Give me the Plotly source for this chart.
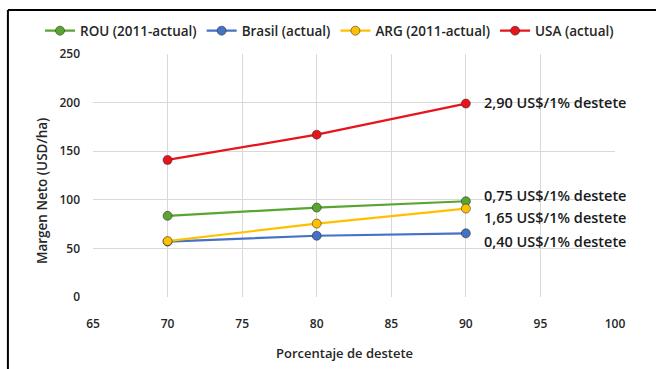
import plotly.graph_objects as go

destete = [70, 80, 90]
rou = [83.5, 92, 98.5]
brasil = [57, 63, 65.5]
arg = [57.5, 75.5, 91]
usa = [141, 167, 199]

series_names = ["ROU (2011-actual)", "Brasil (actual)", "ARG (2011-actual)", "USA (actual)"]
series_colors = ["#5aa532", "#4472c4", "#ffc000", "#e8141b"]
series_values = [rou, brasil, arg, usa]

slope_labels = ["2,90 US$/1% destete", "0,75 US$/1% destete", "1,65 US$/1% destete", "0,40 US$/1% destete"]
slope_label_y = [200, 104.5, 82, 57.5]

x_ticks = [65, 70, 75, 80, 85, 90, 95, 100]
y_ticks = [0, 50, 100, 150, 200, 250]

x_title = "Porcentaje de destete"
y_title = "Margen Neto (USD/ha)"

FONT = "Open Sans"
TXT = "#262626"

fig = go.Figure()
for name, color, vals in zip(series_names, series_colors, series_values):
    fig.add_trace(go.Scatter(
        x=destete, y=vals, name=name, mode="lines+markers",
        line=dict(color=color, width=2.2),
        marker=dict(color=color, size=9, line=dict(color="rgba(40,40,40,0.55)", width=1)),
    ))

for txt, yv in zip(slope_labels, slope_label_y):
    fig.add_annotation(x=91.05, y=yv, xref="x", yref="y", text=txt, showarrow=False,
                       xanchor="left", yanchor="middle",
                       font=dict(family=FONT, size=14.5, color="#1a1a1a", weight=600))

# axis titles (placed as in the reference, slightly off-centre)
fig.add_annotation(x=0.481, y=-0.23, xref="paper", yref="paper", text=x_title, showarrow=False,
                   xanchor="center", yanchor="middle",
                   font=dict(family=FONT, size=13, color=TXT, weight=600))
fig.add_annotation(x=-0.0977, y=0.436, xref="paper", yref="paper", text=y_title, showarrow=False,
                   textangle=-90, xanchor="center", yanchor="middle",
                   font=dict(family=FONT, size=13.5, color=TXT, weight=600))

# outer frame (only left and top edges are visible)
fig.add_shape(type="line", xref="paper", yref="paper",
              x0=-0.163, x1=-0.163, y0=-0.45, y1=1.181,
              line=dict(color="black", width=2), layer="above")
fig.add_shape(type="line", xref="paper", yref="paper",
              x0=-0.163, x1=1.2, y0=1.181, y1=1.181,
              line=dict(color="black", width=2), layer="above")

fig.update_layout(
    width=656, height=369,
    margin=dict(l=93, r=41, t=54, b=72),
    paper_bgcolor="white", plot_bgcolor="white",
    font=dict(family=FONT, size=11, color=TXT),
    showlegend=True,
    legend=dict(orientation="h", x=-0.1015, xanchor="left", y=1.095, yanchor="middle",
                font=dict(family=FONT, size=13.5, color=TXT, weight=600),
                itemwidth=30, tracegroupgap=0, bgcolor="rgba(0,0,0,0)"),
    xaxis=dict(range=[65, 100], tickvals=x_ticks, showgrid=True, gridcolor="#d9d9d9", gridwidth=1,
               zeroline=False, showline=False, ticklabelstandoff=18,
               tickfont=dict(family=FONT, size=12, color=TXT, weight=600)),
    yaxis=dict(range=[0, 250], tickvals=y_ticks, showgrid=True, gridcolor="#d9d9d9", gridwidth=1,
               zeroline=False, showline=False, ticklabelstandoff=12,
               tickfont=dict(family=FONT, size=12, color=TXT, weight=600)),
)

fig.write_html("out.html")
